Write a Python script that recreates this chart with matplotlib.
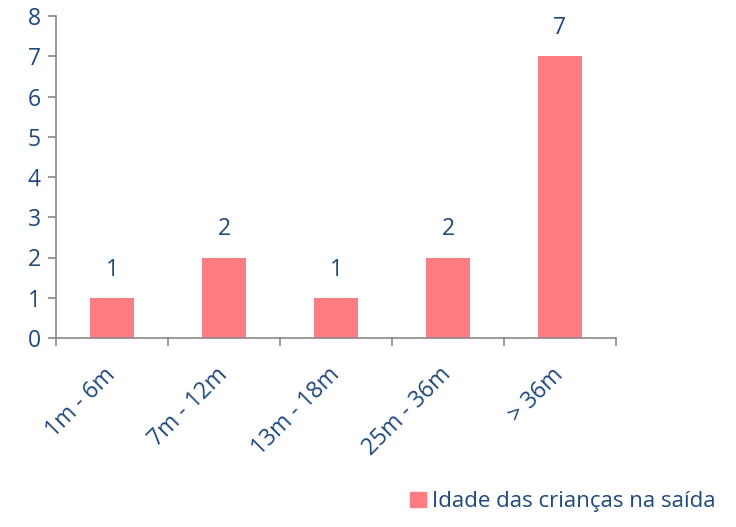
import matplotlib
matplotlib.use("Agg")
import matplotlib.pyplot as plt
from matplotlib.patches import Patch

categories = ["1m - 6m", "7m - 12m", "13m - 18m", "25m - 36m", "> 36m"]
counts = [1, 2, 1, 2, 7]
series_name = "Idade das crianças na saída"

text_c = "#1F497D"
bar_c = "#FF7C80"
axis_c = "#868686"

plt.rcParams['font.family'] = ['Open Sans', 'DejaVu Sans']

fig = plt.figure(figsize=(7.36, 5.27), dpi=100)
ax = fig.add_axes([56/736, 1 - 338/527, 560/736, 322/527])

x = list(range(len(categories)))
ax.bar(x, counts, width=0.4, color=bar_c)
for xi, v in zip(x, counts):
    ax.text(xi, v + 0.4, str(v), ha='center', va='bottom', color=text_c, fontsize=16.5)

ax.set_xlim(-0.5, len(categories) - 0.5)
ax.set_ylim(0, 8)
ax.set_yticks(range(0, 9))
ax.set_xticks(x)
ax.set_xticklabels(categories, rotation=45, ha='right', va='center', rotation_mode='anchor')
ax.set_xticks([i - 0.5 for i in range(len(categories) + 1)], minor=True)
ax.tick_params(axis='x', which='major', length=0, pad=24, labelsize=16.5, labelcolor=text_c)
ax.tick_params(axis='x', which='minor', length=6, color=axis_c, width=1.2)
ax.tick_params(axis='y', length=6, color=axis_c, width=1.2, labelsize=16.5, labelcolor=text_c, pad=5)

for s in ['top', 'right']:
    ax.spines[s].set_visible(False)
for s in ['left', 'bottom']:
    ax.spines[s].set_color(axis_c)
    ax.spines[s].set_linewidth(1.2)

fig.legend(handles=[Patch(color=bar_c, label=series_name)], loc='lower right',
           bbox_to_anchor=(1.0, -0.01), frameon=False, fontsize=16,
           labelcolor=text_c, handlelength=0.7, handleheight=0.7, handletextpad=0.3)

fig.savefig("out.png", dpi=100)
